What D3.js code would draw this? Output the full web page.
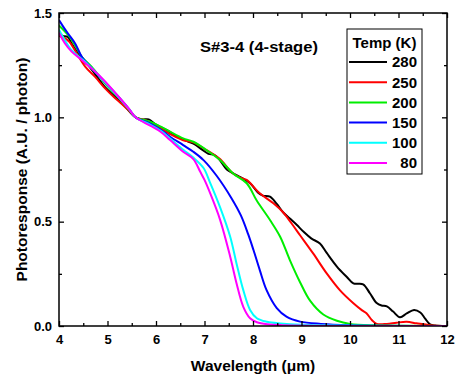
<!DOCTYPE html>
<html>
<head>
<meta charset="utf-8">
<script src="https://cdn.jsdelivr.net/npm/d3@7/dist/d3.min.js"></script>
<style>
  html, body { margin: 0; padding: 0; background: #fff; }
  svg { display: block; }
  text { font-family: "Liberation Sans", Arial, sans-serif; font-weight: bold; fill: #000; }
</style>
</head>
<body>
<svg id="chart" width="457" height="381"></svg>
<script>
// Normalized photoresponse spectra of sample S#3-4 at several temperatures
// Each entry: [wavelength (μm), photoresponse (A.U. / photon)]
const t280 = [[4.00,1.40],[4.08,1.39],[4.18,1.385],[4.27,1.35],[4.38,1.31],[4.50,1.27],[4.62,1.245],[4.75,1.205],[4.95,1.145],[5.15,1.10],[5.35,1.055],[5.58,1.00],[5.72,0.99],[5.85,0.99],[6.00,0.965],[6.25,0.935],[6.45,0.905],[6.65,0.885],[6.80,0.87],[6.95,0.845],[7.08,0.825],[7.20,0.82],[7.30,0.80],[7.46,0.75],[7.60,0.73],[7.75,0.712],[7.94,0.684],[8.10,0.64],[8.20,0.625],[8.35,0.62],[8.49,0.585],[8.62,0.545],[8.76,0.515],[8.90,0.485],[9.05,0.45],[9.20,0.42],[9.38,0.395],[9.52,0.35],[9.73,0.285],[9.93,0.236],[10.07,0.204],[10.27,0.20],[10.41,0.157],[10.55,0.11],[10.65,0.098],[10.76,0.094],[10.89,0.069],[11.03,0.042],[11.17,0.06],[11.32,0.077],[11.45,0.065],[11.55,0.035],[11.65,0.008],[11.75,0.002],[12.00,0.0]];
const t250 = [[4.00,1.39],[4.12,1.38],[4.22,1.36],[4.33,1.32],[4.54,1.243],[4.74,1.195],[4.95,1.139],[5.12,1.10],[5.29,1.065],[5.45,1.03],[5.58,1.00],[5.80,0.985],[6.00,0.96],[6.29,0.92],[6.56,0.89],[6.77,0.88],[7.04,0.843],[7.20,0.82],[7.32,0.80],[7.59,0.731],[7.75,0.71],[7.87,0.70],[8.14,0.636],[8.42,0.588],[8.62,0.545],[8.80,0.49],[8.97,0.435],[9.24,0.348],[9.52,0.252],[9.79,0.172],[10.07,0.109],[10.25,0.075],[10.34,0.061],[10.45,0.029],[10.55,0.01],[10.76,0.01],[10.96,0.016],[11.17,0.02],[11.37,0.013],[11.65,0.004],[12.00,0.0]];
const t200 = [[4.00,1.44],[4.19,1.394],[4.33,1.346],[4.47,1.29],[4.67,1.243],[4.95,1.163],[5.29,1.078],[5.45,1.035],[5.58,1.00],[5.88,0.979],[6.10,0.955],[6.29,0.931],[6.56,0.899],[6.77,0.883],[7.04,0.843],[7.32,0.795],[7.59,0.731],[7.87,0.684],[8.08,0.60],[8.35,0.508],[8.56,0.428],[8.76,0.316],[8.97,0.21],[9.18,0.12],[9.45,0.055],[9.73,0.025],[10.00,0.01],[10.50,0.003],[12.00,0.0]];
const t150 = [[4.00,1.466],[4.10,1.43],[4.19,1.40],[4.33,1.355],[4.47,1.29],[4.57,1.262],[4.74,1.219],[4.95,1.168],[5.29,1.082],[5.45,1.038],[5.58,1.00],[5.88,0.97],[6.10,0.94],[6.29,0.907],[6.56,0.867],[6.77,0.835],[6.98,0.795],[7.25,0.72],[7.55,0.615],[7.75,0.53],[7.90,0.44],[8.01,0.364],[8.14,0.268],[8.28,0.172],[8.49,0.086],[8.69,0.045],[8.97,0.021],[9.40,0.01],[10.00,0.004],[12.00,0.0]];
const t100 = [[4.00,1.42],[4.12,1.37],[4.26,1.322],[4.47,1.28],[4.67,1.237],[4.95,1.168],[5.29,1.08],[5.45,1.037],[5.58,1.00],[5.88,0.965],[6.10,0.935],[6.29,0.899],[6.56,0.845],[6.77,0.807],[6.98,0.757],[7.11,0.69],[7.32,0.57],[7.53,0.428],[7.66,0.30],[7.80,0.172],[7.94,0.077],[8.08,0.037],[8.29,0.02],[8.56,0.012],[9.00,0.006],[12.00,0.0]];
const t80 = [[4.00,1.405],[4.12,1.355],[4.26,1.315],[4.47,1.275],[4.67,1.235],[4.95,1.172],[5.29,1.082],[5.45,1.038],[5.58,1.00],[5.88,0.96],[6.10,0.93],[6.29,0.891],[6.56,0.835],[6.77,0.80],[6.91,0.74],[7.00,0.70],[7.11,0.64],[7.32,0.51],[7.53,0.332],[7.66,0.205],[7.80,0.092],[7.94,0.037],[8.08,0.018],[8.30,0.008],[8.60,0.004],[12.00,0.0]];

const temps = ["280", "250", "200", "150", "100", "80"];
const seriesData = [t280, t250, t200, t150, t100, t80];
const colors = ["#000000", "#ff0000", "#00ee00", "#0000ff", "#00ffff", "#ff00ff"];

const xMajor = [4, 5, 6, 7, 8, 9, 10, 11, 12];
const xMinor = [4.5, 5.5, 6.5, 7.5, 8.5, 9.5, 10.5, 11.5];
const yMajor = [0.0, 0.5, 1.0, 1.5];
const yMinor = [0.25, 0.75, 1.25];

const xTitle = "Wavelength (μm)";
const yTitle = "Photoresponse (A.U. / photon)";
const note = "S#3-4 (4-stage)";
const legendTitle = "Temp (K)";

const svg = d3.select("#chart");
const m = { left: 59, right: 447, top: 13, bottom: 326 };

const x = d3.scaleLinear().domain([4, 12]).range([m.left, m.right]);
const y = d3.scaleLinear().domain([0, 1.5]).range([m.bottom, m.top]);

// Clip curves to the plotting frame
svg.append("defs").append("clipPath").attr("id", "plot-clip")
  .append("rect")
  .attr("x", m.left).attr("y", m.top)
  .attr("width", m.right - m.left).attr("height", m.bottom - m.top);

// Curves (magenta drawn last, on top)
const line = d3.line()
  .x(d => x(d[0]))
  .y(d => y(d[1]))
  .curve(d3.curveCatmullRom.alpha(0.5));

svg.append("g").attr("clip-path", "url(#plot-clip)")
  .selectAll("path")
  .data(seriesData)
  .join("path")
  .attr("d", line)
  .attr("fill", "none")
  .attr("stroke", (d, i) => colors[i])
  .attr("stroke-width", 2)
  .attr("stroke-linejoin", "round");

// Axes: inward ticks on all four sides
function styleAxis(g) {
  g.select(".domain").remove();
  g.selectAll("line").attr("stroke", "#000").attr("stroke-width", 1.3);
  g.selectAll("text").style("font-size", "13px").attr("fill", "#000");
}

svg.append("g").attr("transform", `translate(0,${m.bottom})`)
  .call(d3.axisBottom(x).tickValues(xMajor).tickSize(-5).tickPadding(9).tickFormat(d3.format("d")))
  .call(styleAxis);
svg.append("g").attr("transform", `translate(0,${m.bottom})`)
  .call(d3.axisBottom(x).tickValues(xMinor).tickSize(-3).tickFormat(""))
  .call(styleAxis);
svg.append("g").attr("transform", `translate(0,${m.top})`)
  .call(d3.axisTop(x).tickValues(xMajor).tickSize(-5).tickFormat(""))
  .call(styleAxis);
svg.append("g").attr("transform", `translate(0,${m.top})`)
  .call(d3.axisTop(x).tickValues(xMinor).tickSize(-3).tickFormat(""))
  .call(styleAxis);

svg.append("g").attr("transform", `translate(${m.left},0)`)
  .call(d3.axisLeft(y).tickValues(yMajor).tickSize(-5).tickPadding(7).tickFormat(d3.format(".1f")))
  .call(styleAxis);
svg.append("g").attr("transform", `translate(${m.left},0)`)
  .call(d3.axisLeft(y).tickValues(yMinor).tickSize(-3).tickFormat(""))
  .call(styleAxis);
svg.append("g").attr("transform", `translate(${m.right},0)`)
  .call(d3.axisRight(y).tickValues(yMajor).tickSize(-5).tickFormat(""))
  .call(styleAxis);
svg.append("g").attr("transform", `translate(${m.right},0)`)
  .call(d3.axisRight(y).tickValues(yMinor).tickSize(-3).tickFormat(""))
  .call(styleAxis);

// Frame
svg.append("rect")
  .attr("x", m.left).attr("y", m.top)
  .attr("width", m.right - m.left).attr("height", m.bottom - m.top)
  .attr("fill", "none").attr("stroke", "#000").attr("stroke-width", 1.5);

// Axis titles
svg.append("text")
  .attr("x", (m.left + m.right) / 2).attr("y", 371)
  .attr("text-anchor", "middle")
  .style("font-size", "15.5px")
  .text(xTitle);

svg.append("text")
  .attr("transform", `translate(27,${(m.top + m.bottom) / 2}) rotate(-90)`)
  .attr("text-anchor", "middle")
  .style("font-size", "15.5px")
  .text(yTitle);

// Sample annotation
svg.append("text")
  .attr("x", 200).attr("y", 52)
  .attr("textLength", 118).attr("lengthAdjust", "spacingAndGlyphs")
  .style("font-size", "14px")
  .text(note);

// Legend
const lg = svg.append("g");
lg.append("rect")
  .attr("x", 347).attr("y", 29).attr("width", 75).attr("height", 145)
  .attr("fill", "#fff").attr("stroke", "#000").attr("stroke-width", 1);
lg.append("text")
  .attr("x", 384.5).attr("y", 48)
  .attr("text-anchor", "middle")
  .style("font-size", "15px")
  .text(legendTitle);

const rows = lg.selectAll("g.row")
  .data(temps)
  .join("g")
  .attr("class", "row")
  .attr("transform", (d, i) => `translate(0,${62 + i * 20.2})`);
rows.append("line")
  .attr("x1", 349).attr("x2", 387)
  .attr("y1", 0).attr("y2", 0)
  .attr("stroke", (d, i) => colors[i])
  .attr("stroke-width", 2);
rows.append("text")
  .attr("x", 417).attr("y", 5.4)
  .attr("text-anchor", "end")
  .style("font-size", "15px")
  .text(d => d);
</script>
</body>
</html>
